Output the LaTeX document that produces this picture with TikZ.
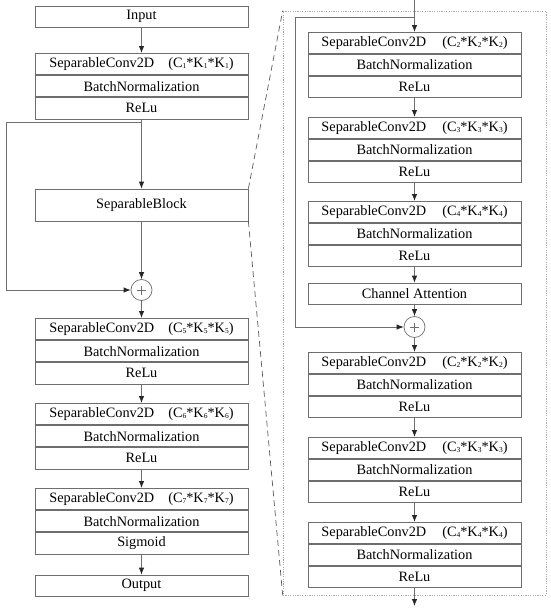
\documentclass[tikz,border=0pt]{standalone}
\usepackage{fontspec}
\setmainfont{Liberation Serif}
\usetikzlibrary{arrows.meta}
\definecolor{linegray}{RGB}{110,110,110}
\definecolor{framegray}{RGB}{170,170,170}
\definecolor{slantgray}{RGB}{90,90,90}
\newcommand\fs{\fontsize{14.3}{17}\selectfont}
\newcommand\sbs[1]{\raisebox{-1.2pt}{\fontsize{7.5}{8}\selectfont #1}}
\newcommand\convlab[2]{SeparableConv2D\hspace{#2}(C\sbs{#1}*K\sbs{#1}*K\sbs{#1})}
% name, x, ytop, rowh, label, activation
\newcommand\mkblock[6]{%
  \node[row, minimum height=#4pt, anchor=north] (#1a) at (#2,#3) {#5};
  \node[row, minimum height=#4pt, anchor=north] (#1b) at (#1a.south) {BatchNormalization};
  \node[row, minimum height=#4pt, anchor=north] (#1c) at (#1b.south) {#6};
}
\begin{document}
\begin{tikzpicture}[x=1pt,y=-1pt,
  row/.style={draw=linegray, line width=0.8pt, minimum width=213pt, inner sep=0pt, font=\fs, text=black},
  arr/.style={draw=linegray, line width=0.8pt, -{Latex[length=7pt,width=5.5pt,color=black!85]}},
  plain/.style={draw=linegray, line width=0.8pt},
  addnode/.style={circle, draw=linegray, line width=0.7pt, minimum size=21pt, inner sep=0pt},
  frame/.style={draw=framegray, line width=0.6pt, dash pattern=on 1.2pt off 1.2pt, inner sep=0pt},
  slant/.style={draw=slantgray, line width=0.7pt, dash pattern=on 6pt off 4pt}]
\useasboundingbox (0,0) rectangle (550,608);

% ---------- left column ----------
\node[row, minimum height=21pt] (in) at (141.5,16.5) {Input};
\mkblock{L1}{141.5}{53}{21.33}{\convlab{1}{14pt}}{ReLu}
\node[row, minimum height=32pt] (sb) at (141.5,205) {SeparableBlock};
\node[addnode] (addL) at (141.5,290) {};
\draw[linegray, line width=0.7pt] (addL.center) +(-4.5,0) -- +(4.5,0) (addL.center) +(0,-4.5) -- +(0,4.5);
\mkblock{L5}{141.5}{318}{21.33}{\convlab{5}{14pt}}{ReLu}
\mkblock{L6}{141.5}{403}{21.33}{\convlab{6}{14pt}}{ReLu}
\mkblock{L7}{141.5}{488}{21.33}{\convlab{7}{14pt}}{Sigmoid}
\node[row, minimum height=21pt] (out) at (141.5,585.5) {Output};

\coordinate (brL) at (141.5,122);
\coordinate (cornL) at (6,122);
\draw[arr] (in) -- (L1a);
\draw[arr] (L1c) -- (sb);
\draw[arr] (sb) -- (addL);
\draw[arr] (brL) -- (cornL) |- (addL);
\draw[arr] (addL) -- (L5a);
\draw[arr] (L5c) -- (L6a);
\draw[arr] (L6c) -- (L7a);
\draw[arr] (L7c) -- (out);

% ---------- right (expanded) column ----------
\node[frame, minimum width=263pt, minimum height=584pt] (fr) at (414.5,303) {};
\draw[slant] (sb.north east) -- (fr.north west);
\draw[slant] (sb.south east) -- (fr.south west);

\coordinate (topR) at (414.5,0);
\mkblock{R2}{414.5}{32}{21}{\convlab{2}{16pt}}{ReLu}
\mkblock{R3}{414.5}{117}{21}{\convlab{3}{16pt}}{ReLu}
\mkblock{R4}{414.5}{201}{21}{\convlab{4}{16pt}}{ReLu}
\node[row, minimum height=21pt] (ca) at (414.5,293.5) {Channel Attention};
\node[addnode] (addR) at (414.5,327) {};
\draw[linegray, line width=0.7pt] (addR.center) +(-4.5,0) -- +(4.5,0) (addR.center) +(0,-4.5) -- +(0,4.5);
\mkblock{S2}{414.5}{352}{21}{\convlab{2}{16pt}}{ReLu}
\mkblock{S3}{414.5}{437}{21}{\convlab{3}{16pt}}{ReLu}
\mkblock{S4}{414.5}{522}{21}{\convlab{4}{16pt}}{ReLu}
\coordinate (endR) at (414.5,606);

\coordinate (brR) at (414.5,17);
\coordinate (cornR) at (295,17);
\draw[arr] (topR) -- (R2a);
\draw[plain] (brR) -- (cornR);
\draw[arr] (cornR) |- (addR);
\draw[arr] (R2c) -- (R3a);
\draw[arr] (R3c) -- (R4a);
\draw[arr] (R4c) -- (ca);
\draw[arr] (ca) -- (addR);
\draw[arr] (addR) -- (S2a);
\draw[arr] (S2c) -- (S3a);
\draw[arr] (S3c) -- (S4a);
\draw[arr] (S4c) -- (endR);
\end{tikzpicture}
\end{document}
